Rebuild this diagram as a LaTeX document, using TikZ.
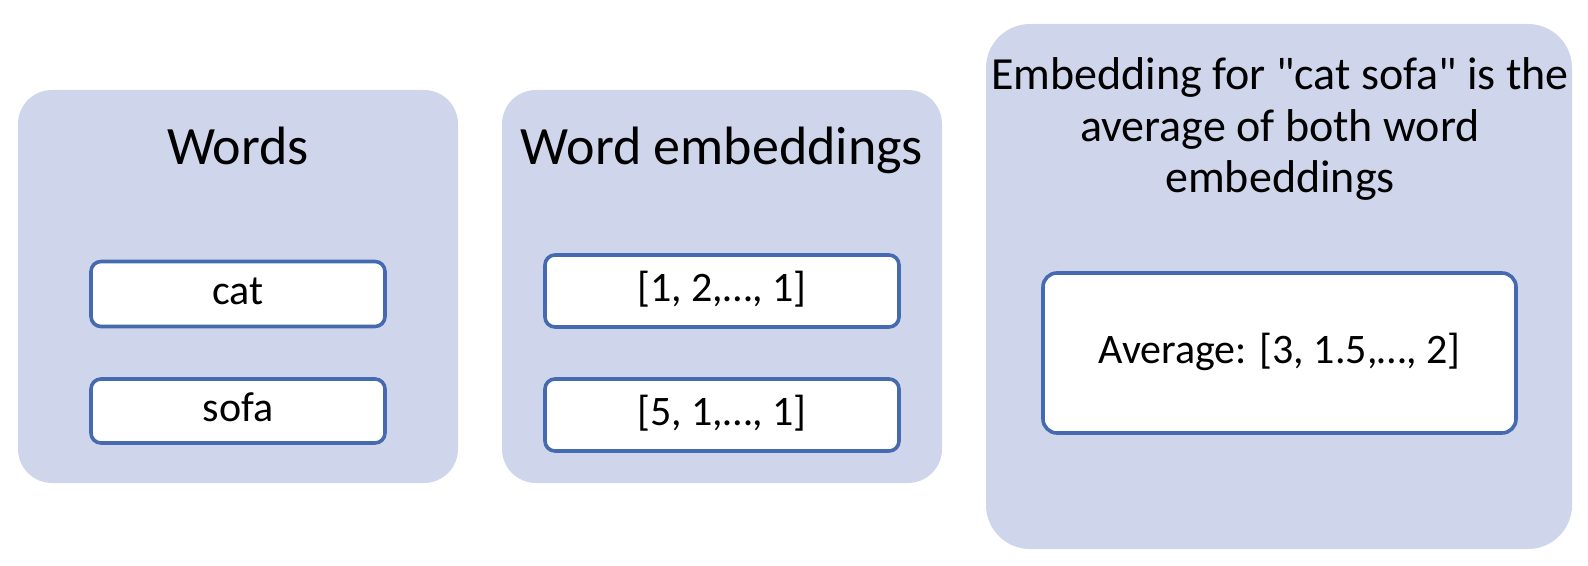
\documentclass[tikz,border=0pt]{standalone}
\usepackage{fontspec}
\setmainfont{Carlito}[Ligatures=TeXOff]
\definecolor{panelfill}{RGB}{207,213,234}
\definecolor{boxline}{RGB}{70,106,176}
\tikzset{
  panel/.style={fill=panelfill, draw=none, inner sep=0pt},
  itembox/.style={draw=boxline, line width=1.8pt, fill=white, rounded corners=5pt,
    inner sep=0pt, font=\fontsize{21}{25}\selectfont, text height=14.7pt, text depth=3.8pt},
  heading/.style={font=\fontsize{27}{32}\selectfont, anchor=base, inner sep=0pt},
}
\begin{document}
\begin{tikzpicture}[x=0.5pt,y=-0.5pt]
\useasboundingbox (0,0) rectangle (1588,566);
% panels
\node[panel, rounded corners=17pt, minimum width=220pt, minimum height=196.5pt] (p1) at (238,286.5) {};
\node[panel, rounded corners=17pt, minimum width=220pt, minimum height=196.5pt] (p2) at (722,286.5) {};
\node[panel, rounded corners=22pt, minimum width=293pt, minimum height=262.5pt] (p3) at (1279,286.5) {};
% headings
\node[heading] (h1) at (238,165) {Words};
\node[heading] (h2) at (722,165) {Word embeddings};
\node[heading, font=\fontsize{23}{25.75}\selectfont, align=center] (h3) at (1280,193)
  {Embedding for "cat sofa" is the\\ average of both word\\ embeddings};
% item boxes
\node[itembox, minimum width=147pt, minimum height=32.5pt] (cat) at (238,294) {cat};
\node[itembox, minimum width=147pt, minimum height=32pt] (sofa) at (238,411) {sofa};
\node[itembox, minimum width=177pt, minimum height=36pt] (e1) at (722,291) {[1, 2,\dots, 1]};
\node[itembox, minimum width=177pt, minimum height=36pt] (e2) at (722,415) {[5, 1,\dots, 1]};
\node[itembox, rounded corners=7pt, minimum width=236.5pt, minimum height=80pt] (avg) at (1279.5,353) {Average: [3, 1.5,\dots, 2]};
\end{tikzpicture}
\end{document}
